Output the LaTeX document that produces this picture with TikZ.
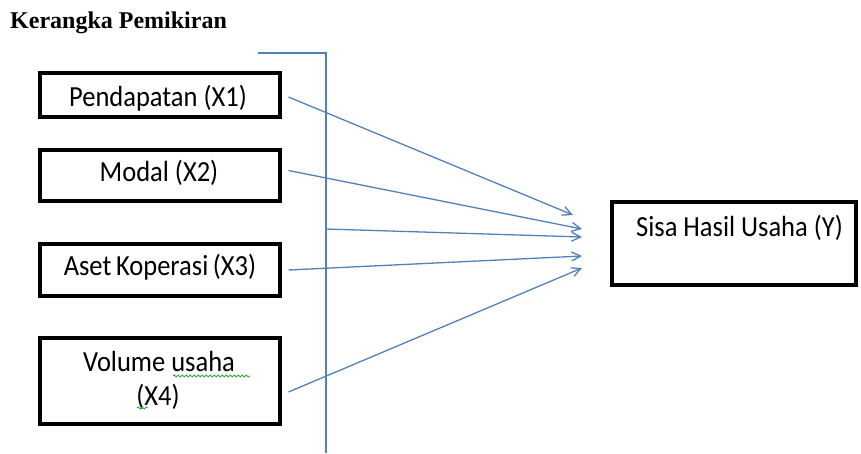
\documentclass[tikz,border=0pt]{standalone}
\usepackage{fontspec}
\setmainfont{Carlito}
\newfontfamily\titlefont{Liberation Serif}
\usetikzlibrary{arrows.meta,decorations.pathmorphing}
\definecolor{wordblue}{RGB}{79,129,189}
\definecolor{squiggle}{RGB}{60,170,60}
\newcommand{\tallt}[1]{\scalebox{1}[1.1]{#1}}
\tikzset{
  box/.style={draw=black, line width=4pt, fill=white, inner sep=0pt},
  lbl/.style={font=\fontsize{26.5}{30}\selectfont, inner sep=0pt, anchor=base},
  conn/.style={draw=wordblue, line width=1.3pt},
  arr/.style={conn, -{Straight Barb[length=9pt,width=9pt,line width=1.3pt]}},
  squig/.style={draw=squiggle, line width=0.9pt, decorate, decoration={snake, amplitude=1pt, segment length=4pt}}
}
\begin{document}
\begin{tikzpicture}[x=1pt,y=-1pt]
\useasboundingbox (0,0) rectangle (861,453);
\node[font=\titlefont\bfseries\fontsize{24}{26}\selectfont, anchor=base west, inner sep=0pt] (title) at (10,28) {Kerangka Pemikiran};
% boxes
\node[box, minimum width=240pt, minimum height=44pt] (b1) at (159.5,95) {};
\node[box, minimum width=240pt, minimum height=51pt] (b2) at (159.5,175.5) {};
\node[box, minimum width=240pt, minimum height=52pt] (b3) at (159.5,270) {};
\node[box, minimum width=240pt, minimum height=86pt] (b4) at (159.5,381) {};
\node[box, minimum width=244pt, minimum height=83pt] (y) at (734,243.5) {};
% labels
\node[lbl] (t1) at (158,106) {\tallt{Pendapatan (X1)}};
\node[lbl] (t2) at (159,181) {\tallt{Modal (X2)}};
\node[lbl] (t3) at (160,275) {\tallt{Aset\hspace{-0.05em} Koperasi\hspace{-0.05em} (X3)}};
\node[lbl] (t4a) at (159,371) {\tallt{Volume usaha}};
\node[lbl] (t4b) at (158,405) {\tallt{(X4)}};
\node[lbl, anchor=base west] (ty) at (636,236) {\tallt{Sisa Hasil Usaha (Y)}};
% spell-check squiggles
\coordinate (s1) at (173,376);
\coordinate (s2) at (250,376);
\coordinate (s3) at (137,408);
\coordinate (s4) at (148,408);
\draw[squig] (s1) -- (s2);
\draw[squig] (s3) -- (s4);
% bracket line
\coordinate (vtop) at (326,53);
\coordinate (vbot) at (326,453);
\coordinate (htop) at (258,53);
\coordinate (vmid) at (326,229);
\draw[conn] (htop) -- (vtop) -- (vbot);
% arrow ends
\coordinate (e1) at (573,215);
\coordinate (e2) at (582,229);
\coordinate (e3) at (582,237);
\coordinate (e4) at (582,256);
\coordinate (e5) at (582,268);
\draw[arr] ([xshift=7pt,yshift=-2pt]b1.east) -- (e1);
\draw[arr] ([xshift=7pt,yshift=5pt]b2.east) -- (e2);
\draw[arr] (vmid) -- (e3);
\draw[arr] ([xshift=7pt]b3.east) -- (e4);
\draw[arr] ([xshift=7pt,yshift=-11pt]b4.east) -- (e5);
\end{tikzpicture}
\end{document}
